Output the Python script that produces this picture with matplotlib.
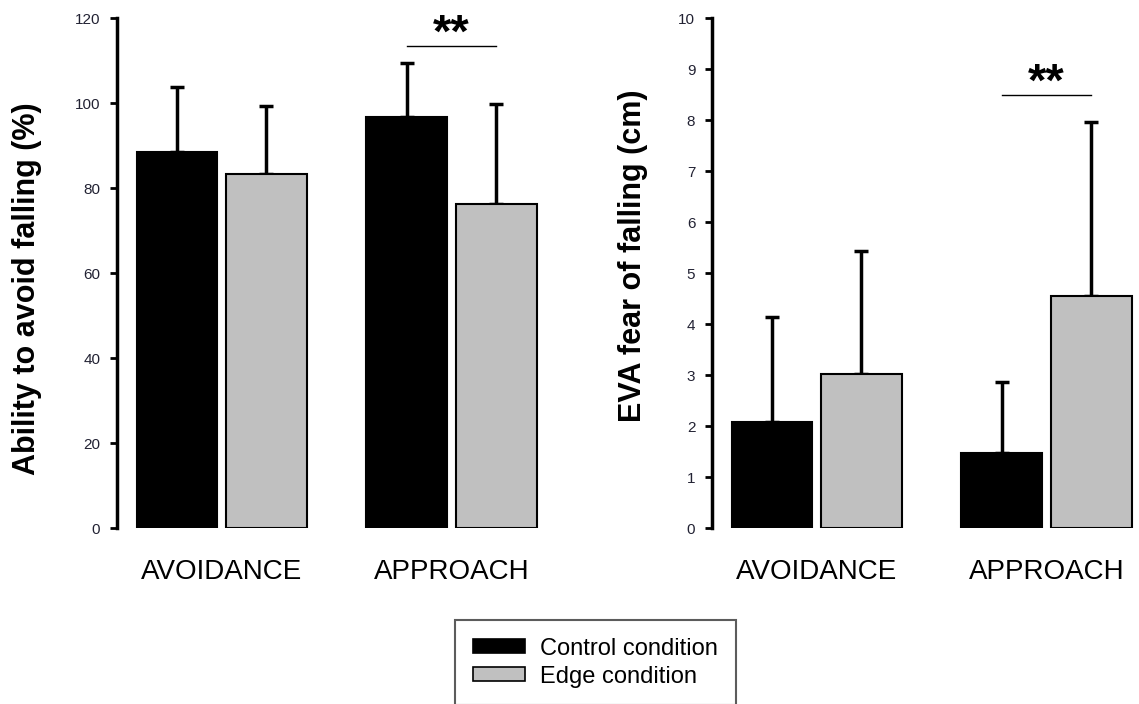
import matplotlib
matplotlib.use("Agg")
import matplotlib.pyplot as plt
from matplotlib.patches import Patch

#======================================================================#
## data
groups = ["AVOIDANCE", "APPROACH"]
series = ["Control condition", "Edge condition"]

avoid_mean = [88.5, 83.4]          # control, edge
avoid_err = [15.3, 15.9]
approach_mean = [96.7, 76.3]
approach_err = [12.8, 23.5]

eva_avoid_mean = [2.07, 3.01]
eva_avoid_err = [2.07, 2.42]
eva_approach_mean = [1.48, 4.54]
eva_approach_err = [1.39, 3.43]

## plot parameters
bar_w = 0.35
offset = 0.195
colors = ["black", "#c0c0c0"]
font = "Liberation Sans"
#======================================================================#

def draw_panel(ax, means, errs, ymax, ystep, ylabel, label_xy, sig_y, star_y):
    for k in range(2):
        xs = [g + (2 * k - 1) * offset for g in range(len(groups))]
        vals = [means[g][k] for g in range(len(groups))]
        ers = [errs[g][k] for g in range(len(groups))]
        ax.bar(xs, vals, width=bar_w, color=colors[k], edgecolor="black",
               linewidth=1.5, zorder=3)
        ax.errorbar(xs, vals, yerr=[[0] * len(vals), ers], fmt="none",
                    ecolor="black", elinewidth=2.5, capsize=5, capthick=2.5, zorder=2)
    ax.set_xlim(-0.455, 1.385)
    ax.set_ylim(0, ymax)
    ax.set_yticks([i * ystep for i in range(int(round(ymax / ystep)) + 1)])
    ax.set_xticks(range(len(groups)))
    ax.set_xticklabels(groups, family=font, fontsize=20)
    ax.tick_params(axis="x", length=0, pad=22)
    ax.tick_params(axis="y", direction="out", length=5, width=2, pad=7,
                   labelsize=11, labelcolor="#222233")
    for lab in ax.get_yticklabels():
        lab.set_family(font)
    for s in ["top", "right", "bottom"]:
        ax.spines[s].set_visible(False)
    ax.spines["left"].set_linewidth(2.5)
    ax.set_ylabel(ylabel, family=font, fontsize=22, fontweight="bold")
    ax.yaxis.set_label_coords(label_xy[0], label_xy[1])
    # significance bracket over APPROACH
    ax.plot([1 - offset, 1 + offset], [sig_y, sig_y], color="black", linewidth=1)
    ax.text(1.0, star_y, "**", ha="center", va="center", family=font,
            fontsize=34, fontweight="bold")

def main():
    fig = plt.figure(figsize=(11.39, 7.04), dpi=100)
    ax1 = fig.add_axes([0.1027, 0.25, 0.3714, 0.7244])
    ax2 = fig.add_axes([0.6251, 0.25, 0.3714, 0.7244])

    draw_panel(ax1, [avoid_mean, approach_mean], [avoid_err, approach_err],
               120, 20, "Ability to avoid falling (%)", (-0.177, 0.469), 113.4, 116.0)
    draw_panel(ax2, [eva_avoid_mean, eva_approach_mean], [eva_avoid_err, eva_approach_err],
               10, 1, "EVA fear of falling (cm)", (-0.151, 0.533), 8.49, 8.72)

    handles = [Patch(facecolor=colors[k], edgecolor="black", linewidth=1.2) for k in range(2)]
    leg = fig.legend(handles, series, loc="upper left", bbox_to_anchor=(455 / 1139, 1 - 620 / 704),
                     prop={"family": font, "size": 17}, frameon=True, fancybox=False,
                     handlelength=2.2, handleheight=0.55, borderpad=0.75, labelspacing=0.25,
                     handletextpad=0.65, borderaxespad=0)
    leg.get_frame().set_edgecolor("#333333")
    leg.get_frame().set_linewidth(1.5)

    fig.savefig("out.png", dpi=100)
    plt.close(fig)

if __name__ == '__main__':
    main()
